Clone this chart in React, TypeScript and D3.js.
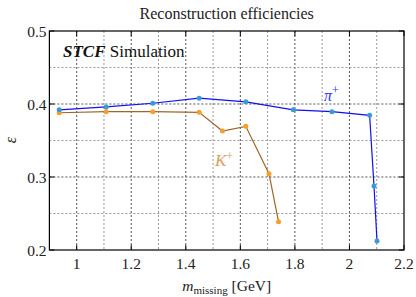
import React from "react";
import * as d3 from "d3";

const piMass = [0.936, 1.108, 1.279, 1.449, 1.62, 1.794, 1.936, 2.074, 2.09, 2.101];
const piEff = [0.392, 0.396, 0.401, 0.408, 0.403, 0.392, 0.3895, 0.3845, 0.2877, 0.2123];
const kMass = [0.936, 1.108, 1.279, 1.449, 1.5345, 1.62, 1.705, 1.74];
const kEff = [0.388, 0.3895, 0.3895, 0.3886, 0.363, 0.3694, 0.3045, 0.2388];
const xTicks = [1, 1.2, 1.4, 1.6, 1.8, 2, 2.2];
const yTicks = [0.2, 0.3, 0.4, 0.5];
const xGrid = [1, 1.1, 1.2, 1.3, 1.4, 1.5, 1.6, 1.7, 1.8, 1.9, 2, 2.1];
const yGrid = [0.25, 0.3, 0.35, 0.4, 0.45];

const W = 416, H = 297;
const L = 49.4, R = 404, T = 31, B = 250;
const FONT = "'Liberation Serif', serif";

const isMajor = (v: number, step: number) => {
  const r = v / step;
  return Math.abs(r - Math.round(r)) < 1e-6;
};

export default function App() {
  const x = d3.scaleLinear().domain([0.9, 2.2]).range([L, R]);
  const y = d3.scaleLinear().domain([0.2, 0.5]).range([B, T]);
  const line = d3.line<[number, number]>().x(d => x(d[0])).y(d => y(d[1]));
  const pi = piMass.map((m, i) => [m, piEff[i]] as [number, number]);
  const k = kMass.map((m, i) => [m, kEff[i]] as [number, number]);
  const cx = (L + R) / 2;
  return (
    <svg width={W} height={H} style={{ position: "absolute", left: 0, top: 0 }} fontFamily={FONT}>
      <rect width={W} height={H} fill="#fff" />
      {xGrid.map(v => (
        <line key={"gx" + v} x1={x(v)} x2={x(v)} y1={T} y2={B}
          stroke={isMajor(v, 0.2) ? "#555" : "#999"}
          strokeWidth={1} strokeDasharray="2,2" />
      ))}
      {yGrid.map(v => (
        <line key={"gy" + v} x1={L} x2={R} y1={y(v)} y2={y(v)}
          stroke={isMajor(v, 0.1) ? "#555" : "#999"}
          strokeWidth={1} strokeDasharray="2,2" />
      ))}
      {xTicks.map(v => (
        <g key={"tx" + v}>
          <line x1={x(v)} x2={x(v)} y1={B} y2={B - 5} stroke="#000" strokeWidth={1} />
          <line x1={x(v)} x2={x(v)} y1={T} y2={T + 5} stroke="#000" strokeWidth={1} />
          <text x={x(v)} y={268.5} textAnchor="middle" fontSize={15.5} fill="#222">{String(v)}</text>
        </g>
      ))}
      {yTicks.map(v => (
        <g key={"ty" + v}>
          <line x1={L} x2={L + 5} y1={y(v)} y2={y(v)} stroke="#000" strokeWidth={1} />
          <line x1={R} x2={R - 5} y1={y(v)} y2={y(v)} stroke="#000" strokeWidth={1} />
          <text x={46.5} y={y(v) + 5.5} textAnchor="end" fontSize={15.5} fill="#222">{v.toFixed(1)}</text>
        </g>
      ))}
      <rect x={L} y={T} width={R - L} height={B - T} fill="none" stroke="#000" strokeWidth={1.2} />
      <path d={line(k) || ""} fill="none" stroke="#a0642c" strokeWidth={1.2} />
      <path d={line(pi) || ""} fill="none" stroke="#1010f0" strokeWidth={1.2} />
      {k.map((d, i) => <circle key={"k" + i} cx={x(d[0])} cy={y(d[1])} r={2.5} fill="#f5a02a" />)}
      {pi.map((d, i) => <circle key={"p" + i} cx={x(d[0])} cy={y(d[1])} r={2.5} fill="#3a9ad8" />)}
      <text x={cx} y={19} textAnchor="middle" fontSize={16} fill="#222">Reconstruction efficiencies</text>
      <text x={63} y={57} fontSize={17} fill="#111">
        <tspan fontWeight="bold" fontStyle="italic">STCF</tspan>
        <tspan> Simulation</tspan>
      </text>
      <text x={324} y={101} fontSize={16} fill="#3030ff" fontStyle="italic">π<tspan dy={-7} fontSize={12} fontStyle="normal">+</tspan></text>
      <text x={215} y={166} fontSize={17} fill="#d8a060" fontStyle="italic">K<tspan dy={-6} fontSize={12} fontStyle="normal">+</tspan></text>
      <text x={cx} y={291} textAnchor="middle" fontSize={15.5} fill="#222">
        <tspan fontStyle="italic">m</tspan><tspan fontSize={11} dy={3}>missing</tspan><tspan dy={-3}> [GeV]</tspan>
      </text>
      <text transform="translate(16,140) rotate(-90)" textAnchor="middle" fontSize={16} fontStyle="italic" fill="#222">ε</text>
    </svg>
  );
}
